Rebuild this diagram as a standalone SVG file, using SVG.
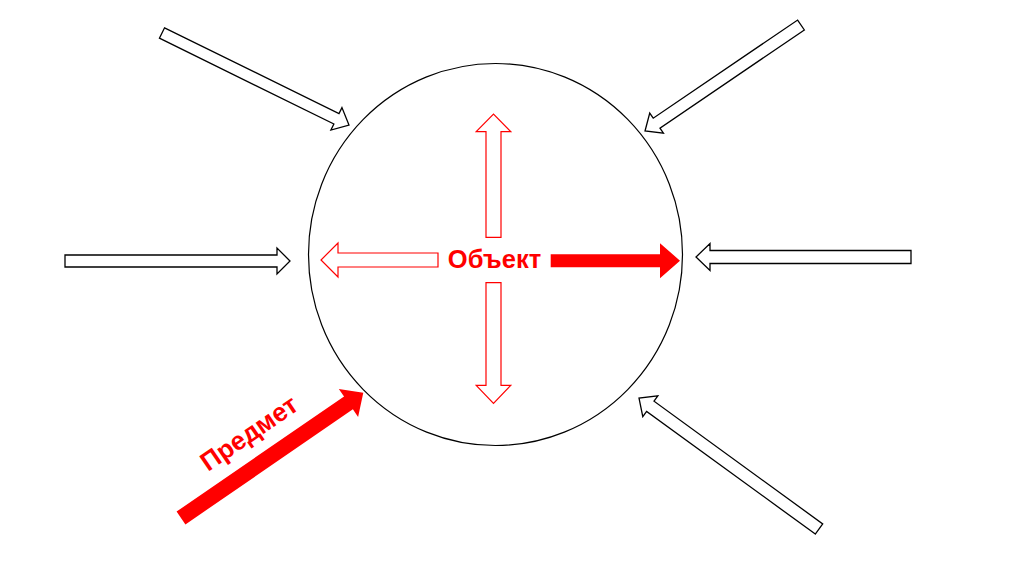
<svg xmlns="http://www.w3.org/2000/svg" width="1024" height="574" viewBox="0 0 1024 574">
<style>
.out{fill:#fff;stroke:#000;stroke-width:1.3;stroke-linejoin:miter}
.inr{fill:#fff;stroke:#f00;stroke-width:1.2;stroke-linejoin:miter}
.red{fill:#f00;stroke:none}
.lbl{font-family:"Liberation Sans",Arial,sans-serif;font-weight:bold;fill:#f00}
</style>
<rect width="1024" height="574" fill="#fff"/>
<g id="object">
<ellipse cx="495.5" cy="254.5" rx="187" ry="191" fill="#fff" stroke="#000" stroke-width="1.2"/>
<text class="lbl" x="494.5" y="268" font-size="25.5" text-anchor="middle">Объект</text>
</g>
<g id="connectors">
<polygon class="out" transform="translate(162,33) rotate(26.2)" points="0,-5.8 194.4,-5.8 194.4,-12.5 208.4,0 194.4,12.5 194.4,5.8 0,5.8"/>
<polygon class="out" transform="translate(801,25) rotate(145.8)" points="0,-6 174.6,-6 174.6,-12.2 188.6,0 174.6,12.2 174.6,6 0,6"/>
<polygon class="out" transform="translate(65,261)" points="0,-6 212,-6 212,-13 225,0 212,13 212,6 0,6"/>
<polygon class="out" transform="translate(911,257) rotate(180)" points="0,-6.5 201,-6.5 201,-13.4 215,0 201,13.4 201,6.5 0,6.5"/>
<polygon class="out" transform="translate(819,529) rotate(-143.96)" points="0,-6.3 208.6,-6.3 208.6,-12.8 222.6,0 208.6,12.8 208.6,6.3 0,6.3"/>
<polygon class="inr" transform="translate(438,260) rotate(180)" points="0,-7 100,-7 100,-17 117,0 100,17 100,7 0,7"/>
<polygon class="inr" transform="translate(493.5,237.3) rotate(-90)" points="0,-7.5 105.6,-7.5 105.6,-17.3 123.3,0 105.6,17.3 105.6,7.5 0,7.5"/>
<polygon class="inr" transform="translate(493.5,282.7) rotate(90)" points="0,-7.5 102.6,-7.5 102.6,-17.3 120.6,0 102.6,17.3 102.6,7.5 0,7.5"/>
<polygon class="red" transform="translate(550.7,260.7)" points="0,-6.5 109.3,-6.5 109.3,-17.5 129.3,0 109.3,17.5 109.3,6.5 0,6.5"/>
<polygon class="red" transform="translate(181,518) rotate(-34.5)" points="0,-7.8 203.2,-7.8 203.2,-17 221.2,0 203.2,17 203.2,7.8 0,7.8"/>
</g>
<g id="predmet">
<text class="lbl" transform="translate(249,433) rotate(-34.5)" x="0" y="9" font-size="26" text-anchor="middle">Предмет</text>
</g>
</svg>
